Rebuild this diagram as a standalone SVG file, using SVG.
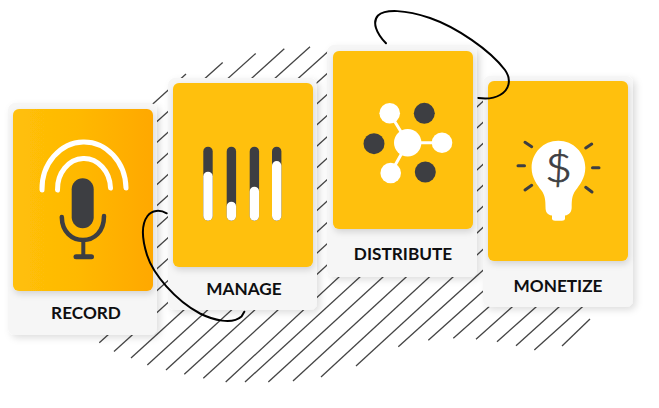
<svg xmlns="http://www.w3.org/2000/svg" width="659" height="408" viewBox="0 0 659 408">
<defs>
<linearGradient id="recGrad" x1="0" y1="0" x2="1" y2="0"><stop offset="0" stop-color="#FFC008"/><stop offset="0.45" stop-color="#FFB904"/><stop offset="1" stop-color="#FFA800"/></linearGradient>
<filter id="sh" x="-15%" y="-15%" width="130%" height="130%"><feDropShadow dx="3" dy="3" stdDeviation="3.5" flood-color="#000" flood-opacity="0.13"/></filter>
<filter id="sh2" x="-15%" y="-15%" width="130%" height="130%"><feDropShadow dx="1" dy="3" stdDeviation="3" flood-color="#000" flood-opacity="0.14"/></filter>
</defs>
<style>
.bg{fill:#F6F6F6;filter:url(#sh)}
.y{fill:#FFC008;filter:url(#sh2)}
.lbl{font-family:"Lato","Noto Sans",sans-serif;font-weight:700;font-size:17.2px;fill:#0E0E10;text-anchor:middle}
.h line{stroke:#444;stroke-width:1.3}
.d{fill:#3D3E42}.w{fill:#fff}
.ray{stroke:#3D3E42;stroke-width:3;stroke-linecap:round;fill:none}
.curve{fill:none;stroke:#000;stroke-width:2;stroke-linecap:round}
</style>
<g id="hatch" class="h">
<line x1="186" y1="74" x2="150" y2="106.5"/>
<line x1="222.7" y1="62.4" x2="150" y2="127.8"/>
<line x1="255.7" y1="53.4" x2="150" y2="148.6"/>
<line x1="284.3" y1="48.8" x2="150" y2="169.6"/>
<line x1="310" y1="46.7" x2="150" y2="190.7"/>
<line x1="332" y1="48" x2="150" y2="211.8"/>
<line x1="340" y1="62" x2="150" y2="233"/>
<line x1="380" y1="47" x2="150" y2="254"/>
<line x1="400" y1="50" x2="150" y2="275"/>
<line x1="420" y1="53" x2="99.3" y2="342.7"/>
<line x1="440" y1="56" x2="114" y2="351.5"/>
<line x1="460" y1="59" x2="131" y2="358"/>
<line x1="470" y1="71" x2="147.3" y2="365"/>
<line x1="470" y1="92" x2="166" y2="370"/>
<line x1="490" y1="95" x2="184.3" y2="374.3"/>
<line x1="490" y1="116" x2="203.3" y2="378.3"/>
<line x1="490" y1="137" x2="225.7" y2="382"/>
<line x1="490" y1="158" x2="245" y2="382"/>
<line x1="490" y1="179" x2="268.3" y2="382"/>
<line x1="490" y1="200" x2="293" y2="381"/>
<line x1="490" y1="221" x2="321" y2="377"/>
<line x1="490" y1="243" x2="356" y2="366"/>
<line x1="490" y1="264" x2="398.3" y2="346.7"/>
<line x1="490" y1="285" x2="428.3" y2="340.3"/>
<line x1="500" y1="297" x2="453.3" y2="338.3"/>
<line x1="520" y1="300" x2="476" y2="339.3"/>
<line x1="545" y1="299" x2="497" y2="341.7"/>
<line x1="570" y1="297" x2="516" y2="345.7"/>
<line x1="590" y1="300" x2="534.3" y2="350"/>
<line x1="590" y1="319" x2="562" y2="346"/>
</g>
<g id="record">
<rect class="bg" x="8" y="103" width="149" height="232" rx="7"/>
<rect x="13" y="109" width="140" height="182" rx="6" fill="url(#recGrad)" filter="url(#sh2)"/>
<path d="M42 190A42 47 0 0 1 126 188M57.5 190A26.5 30.5 0 0 1 110.5 188" fill="none" stroke="#fff" stroke-width="5" stroke-linecap="round"/>
<rect class="d" x="71.7" y="178.3" width="22" height="50" rx="11"/>
<path d="M61.8 217C62 232 72 240 83 240C94 240 104 232 104 216" fill="none" stroke="#3D3E42" stroke-width="4.5" stroke-linecap="round"/>
<path d="M83.3 240V256" fill="none" stroke="#3D3E42" stroke-width="4"/>
<path d="M76 256.7H91.5" fill="none" stroke="#3D3E42" stroke-width="5" stroke-linecap="round"/>
<text class="lbl" x="86" y="319">RECORD</text>
</g>
<g id="manage">
<rect class="bg" x="168" y="78" width="149" height="232" rx="7"/>
<rect class="y" x="173" y="83" width="140" height="184" rx="6"/>
<rect class="d" x="203.3" y="146.7" width="9.4" height="74" rx="4.7"/>
<rect class="w" x="203.3" y="171.7" width="9.4" height="49" rx="4.7"/>
<rect class="d" x="226.7" y="146.7" width="9.4" height="74" rx="4.7"/>
<rect class="w" x="226.7" y="201.7" width="9.4" height="19" rx="4.7"/>
<rect class="d" x="249.7" y="146.7" width="9.4" height="74" rx="4.7"/>
<rect class="w" x="249.7" y="186.7" width="9.4" height="34" rx="4.7"/>
<rect class="d" x="272" y="146.7" width="9.4" height="74" rx="4.7"/>
<rect class="w" x="272" y="161" width="9.4" height="59.7" rx="4.7"/>
<text class="lbl" x="244" y="295">MANAGE</text>
</g>
<g id="distribute">
<rect class="bg" x="327" y="45" width="150" height="232" rx="7"/>
<rect class="y" x="333" y="51" width="140" height="178" rx="6"/>
<path d="M389.7 113.3L407.7 142.7H442M407.7 142.7L390.7 173" fill="none" stroke="#fff" stroke-width="3"/>
<circle class="w" cx="389.7" cy="113.3" r="10.3"/>
<circle class="d" cx="424.3" cy="113.3" r="10.5"/>
<circle class="d" cx="374" cy="143.7" r="10.5"/>
<circle class="w" cx="407.7" cy="142.7" r="13.7"/>
<circle class="w" cx="442" cy="142.7" r="10.3"/>
<circle class="w" cx="390.7" cy="173" r="10.3"/>
<circle class="d" cx="425.3" cy="172" r="10.5"/>
<text class="lbl" x="403" y="260">DISTRIBUTE</text>
</g>
<g id="monetize">
<rect class="bg" x="483" y="76" width="150" height="231" rx="7"/>
<rect class="y" x="488" y="81" width="140" height="180" rx="6"/>
<path class="w" d="M558.3 140.7C543.4 140.7 531.6 152.8 531.6 167.7C531.6 178 537.5 185 541.5 190.5C545 195.5 545.5 200 545.5 207C545.5 212 547 214.8 552 215.5V218.5C552 220 553.5 220.7 555 220.7H562C563.6 220.7 565 220 565 218.5V215.5C569.5 214.8 571.7 212 571.7 207C571.7 200 572 195.5 575.5 190.5C579.5 185 585.3 178 585.3 167.7C585.3 152.8 573.2 140.7 558.3 140.7Z"/>
<text transform="translate(558.5 182) scale(1.2 1)" font-family="Lato,'Noto Sans',sans-serif" font-weight="300" font-size="39" fill="#3D3E42" stroke="#3D3E42" stroke-width="0.7" text-anchor="middle">$</text>
<path class="ray" d="M525 142.3L531.7 146.7M591.7 144L585.7 148M518 165.7H524.5M592.5 167.7H599M525 190L531.7 185.3M585.7 187.3L592 192"/>
<text class="lbl" x="558" y="292">MONETIZE</text>
</g>
<g id="connectors">
<path class="curve" d="M166.7 213.3C160 209.5 152 210 147.5 216C141.5 224 142 239 147 255C153 274 175 300 200 313.5C213 320 232 325 241.5 316.5L244.3 311.7"/>
<path class="curve" d="M386 43.3C376 33 372 22 378 15.5C385 9 405 9.5 430 18C456 27 490 50 505 70C512 80 509 90 500 95C494 98.5 486 99 478.3 98"/>
</g>
</svg>
